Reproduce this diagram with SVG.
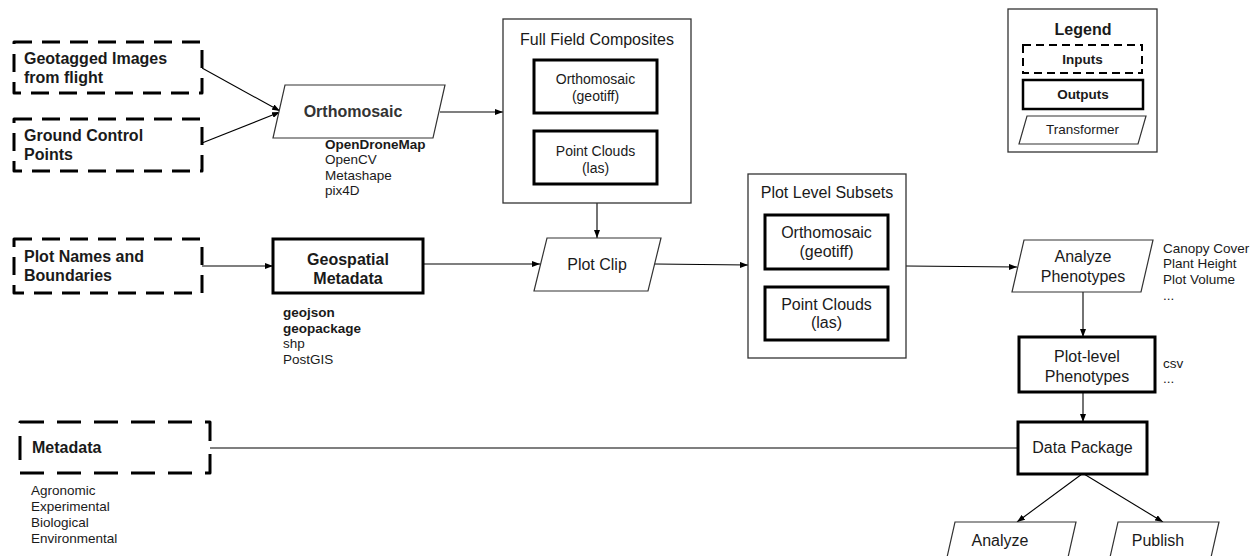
<svg xmlns="http://www.w3.org/2000/svg" width="1252" height="556" viewBox="0 0 1252 556">
<defs>
<marker id="arr" markerWidth="8" markerHeight="6" refX="8" refY="3" orient="auto" markerUnits="userSpaceOnUse">
<path d="M0,0 L8,3 L0,6 z" fill="#000"/>
</marker>
<style>
text{font-family:"Liberation Sans",Arial,sans-serif;fill:#1a1a1a}
.b{font-weight:bold}
.t16{font-size:16px}
.t14{font-size:14px}
.t13{font-size:13.5px}
.mid{text-anchor:middle}
.in{fill:#fff;stroke:#000;stroke-width:3;stroke-dasharray:18 10;stroke-linejoin:round}
.out{fill:#fff;stroke:#000;stroke-width:3}
.tr{fill:#fff;stroke:#333;stroke-width:1.2}
.grp{fill:#fff;stroke:#333;stroke-width:1.3}
.con{fill:none;stroke:#000;stroke-width:1.1}
.ar{marker-end:url(#arr)}
</style>
</defs>
<rect width="1252" height="556" fill="#fff"/>

<g id="connectors">
<line class="con ar" x1="202" y1="68" x2="280" y2="111"/>
<line class="con ar" x1="202" y1="143" x2="280" y2="112"/>
<line class="con ar" x1="440" y1="112" x2="503" y2="112"/>
<line class="con ar" x1="597" y1="203" x2="597" y2="238"/>
<line class="con ar" x1="202" y1="266" x2="273" y2="266"/>
<line class="con ar" x1="423" y1="264" x2="540" y2="264"/>
<line class="con ar" x1="655" y1="264" x2="748" y2="265"/>
<line class="con ar" x1="906" y1="266" x2="1017" y2="267"/>
<line class="con ar" x1="1083" y1="292" x2="1083" y2="337"/>
<line class="con ar" x1="1083" y1="392" x2="1083" y2="422"/>
<line class="con" x1="210" y1="448" x2="1018" y2="448"/>
<line class="con ar" x1="1082" y1="474" x2="1017" y2="522"/>
<line class="con ar" x1="1084" y1="474" x2="1163" y2="522"/>
</g>

<g id="geotagged">
<rect class="in" x="14" y="42" width="188" height="51"/>
<text class="b t16" x="24" y="64">Geotagged Images</text>
<text class="b t16" x="24" y="83">from flight</text>
</g>

<g id="gcp">
<rect class="in" x="14" y="119" width="188" height="52"/>
<text class="b t16" x="24" y="141">Ground Control</text>
<text class="b t16" x="24" y="160">Points</text>
</g>

<g id="orthomosaic">
<polygon class="tr" points="285,85 445,85 433,138 273,138"/>
<text class="b t16 mid" x="353" y="117" style="fill:#333">Orthomosaic</text>
<text class="b t13" x="325" y="149">OpenDroneMap</text>
<text class="t13" x="325" y="164">OpenCV</text>
<text class="t13" x="325" y="180">Metashape</text>
<text class="t13" x="325" y="195">pix4D</text>
</g>

<g id="full-field">
<rect class="grp" x="503" y="19" width="188" height="184"/>
<text class="t16 mid" x="597" y="45">Full Field Composites</text>
<rect class="out" x="534" y="60" width="123" height="53"/>
<text class="t14 mid" x="595.5" y="84">Orthomosaic</text>
<text class="t14 mid" x="595.5" y="101">(geotiff)</text>
<rect class="out" x="534" y="131" width="123" height="53"/>
<text class="t14 mid" x="595.5" y="156">Point Clouds</text>
<text class="t14 mid" x="595.5" y="173">(las)</text>
</g>

<g id="plot-names">
<rect class="in" x="14" y="239" width="188" height="54"/>
<text class="b t16" x="24" y="262">Plot Names and</text>
<text class="b t16" x="24" y="281">Boundaries</text>
</g>

<g id="geospatial">
<rect class="out" x="273" y="239" width="150" height="54"/>
<text class="b t16 mid" x="348" y="265">Geospatial</text>
<text class="b t16 mid" x="348" y="284">Metadata</text>
<text class="b t13" x="283" y="317">geojson</text>
<text class="b t13" x="283" y="333">geopackage</text>
<text class="t13" x="283" y="348">shp</text>
<text class="t13" x="283" y="364">PostGIS</text>
</g>

<g id="plot-clip">
<polygon class="tr" points="547,238 661,238 648,291 534,291"/>
<text class="t16 mid" x="597" y="270">Plot Clip</text>
</g>

<g id="plot-level-subsets">
<rect class="grp" x="748" y="174" width="158" height="184"/>
<text class="t16 mid" x="827" y="198">Plot Level Subsets</text>
<rect class="out" x="765" y="215" width="123" height="54"/>
<text class="t16 mid" x="826.5" y="238">Orthomosaic</text>
<text class="t16 mid" x="826.5" y="257">(geotiff)</text>
<rect class="out" x="765" y="287" width="123" height="53"/>
<text class="t16 mid" x="826.5" y="310">Point Clouds</text>
<text class="t16 mid" x="826.5" y="328">(las)</text>
</g>

<g id="analyze-phenotypes">
<polygon class="tr" points="1024,240 1153,240 1141,292 1012,292"/>
<text class="t16 mid" x="1083" y="262">Analyze</text>
<text class="t16 mid" x="1083" y="282">Phenotypes</text>
<text class="t13" x="1163" y="253">Canopy Cover</text>
<text class="t13" x="1163" y="268">Plant Height</text>
<text class="t13" x="1163" y="284">Plot Volume</text>
<text class="t13" x="1163" y="300">...</text>
</g>

<g id="plot-level-phenotypes">
<rect class="out" x="1019" y="337" width="136" height="55"/>
<text class="t16 mid" x="1087" y="362">Plot-level</text>
<text class="t16 mid" x="1087" y="382">Phenotypes</text>
<text class="t13" x="1163" y="368">csv</text>
<text class="t13" x="1163" y="383">...</text>
</g>

<g id="metadata">
<rect class="in" x="20" y="422" width="190" height="51" style="stroke-dasharray:24 13"/>
<text class="b t16" x="32" y="453">Metadata</text>
<text class="t13" x="31" y="495">Agronomic</text>
<text class="t13" x="31" y="511">Experimental</text>
<text class="t13" x="31" y="527">Biological</text>
<text class="t13" x="31" y="543">Environmental</text>
</g>

<g id="data-package">
<rect class="out" x="1018" y="422" width="129" height="52"/>
<text class="t16 mid" x="1082.5" y="453">Data Package</text>
</g>

<g id="analyze">
<polygon class="tr" points="955,522 1076,522 1064,575 943,575"/>
<text class="t16 mid" x="1000" y="546">Analyze</text>
</g>

<g id="publish">
<polygon class="tr" points="1118,522 1219,522 1207,575 1106,575"/>
<text class="t16 mid" x="1158" y="546">Publish</text>
</g>

<g id="legend">
<rect class="grp" x="1008" y="9" width="149" height="143"/>
<text class="b t16 mid" x="1083" y="35">Legend</text>
<rect x="1023" y="45" width="119" height="28" fill="#fff" stroke="#000" stroke-width="2" stroke-dasharray="8 5"/>
<text class="b t13 mid" x="1082.5" y="64">Inputs</text>
<rect x="1023" y="80" width="120" height="29" fill="#fff" stroke="#000" stroke-width="2.5"/>
<text class="b t13 mid" x="1083" y="99">Outputs</text>
<polygon class="tr" points="1027,116 1146,116 1138,144 1019,144"/>
<text class="t13 mid" x="1082.5" y="134">Transformer</text>
</g>
</svg>
